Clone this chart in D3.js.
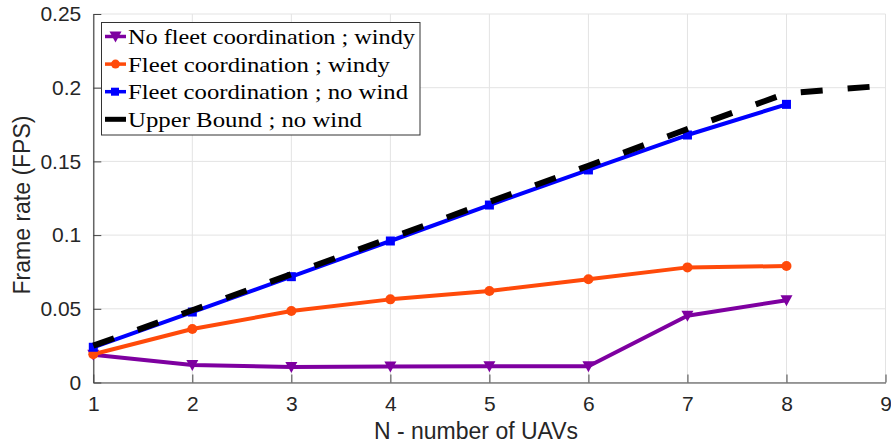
<!DOCTYPE html>
<html><head><meta charset="utf-8">
<script src="https://cdn.jsdelivr.net/npm/d3@7"></script>
<style>body{margin:0;background:#fff}svg{display:block}</style>
</head><body>
<script>
const nValues = [1, 2, 3, 4, 5, 6, 7, 8];
const nUpper = [1, 2, 3, 4, 5, 6, 7, 8, 9];
const noFleetWindy = [0.0188, 0.0118, 0.0105, 0.0108, 0.0110, 0.0110, 0.0453, 0.0558];
const fleetWindy = [0.0192, 0.0363, 0.0485, 0.0564, 0.0621, 0.0700, 0.0781, 0.0790];
const fleetNoWind = [0.0239, 0.0478, 0.0718, 0.0960, 0.1204, 0.1442, 0.1679, 0.1887];
const upperBound = [0.0250, 0.0490, 0.0735, 0.0980, 0.1225, 0.1470, 0.1720, 0.1962, 0.2014];
const xTicks = [1, 2, 3, 4, 5, 6, 7, 8, 9];
const yTicks = [0, 0.05, 0.1, 0.15, 0.2, 0.25];
const yTickLabels = ["0", "0.05", "0.1", "0.15", "0.2", "0.25"];
const legendLabels = ["No fleet coordination ; windy", "Fleet coordination ; windy", "Fleet coordination ; no wind", "Upper Bound ; no wind"];

const W = 891, H = 446;
const svg = d3.select("body").append("svg").attr("width", W).attr("height", H);
const x = d3.scaleLinear().domain([1, 9]).range([93.3, 885.5]);
const y = d3.scaleLinear().domain([0, 0.25]).range([382.5, 14]);

const purple = "#7e00a0", orange = "#ff4a0a", blue = "#0000ff", black = "#000000";
const sans = "'Liberation Sans', Arial, Helvetica, sans-serif";

// grid
const g = svg.append("g");
g.selectAll(".gx").data(xTicks).join("line")
  .attr("x1", d => x(d)).attr("x2", d => x(d)).attr("y1", y(0)).attr("y2", y(0.25))
  .attr("stroke", "#e3e3e3").attr("stroke-width", 1);
g.selectAll(".gy").data(yTicks).join("line")
  .attr("x1", x(1)).attr("x2", x(9)).attr("y1", d => y(d)).attr("y2", d => y(d))
  .attr("stroke", "#e3e3e3").attr("stroke-width", 1);

// axes
const xAxis = d3.axisBottom(x).tickValues(xTicks).tickFormat(d3.format("d")).tickSizeInner(-8).tickSizeOuter(0).tickPadding(14);
const yAxis = d3.axisLeft(y).tickValues(yTicks).tickFormat((d, i) => yTickLabels[i]).tickSizeInner(-8).tickSizeOuter(0).tickPadding(12);
const gx = svg.append("g").attr("transform", `translate(0,${y(0)})`).call(xAxis);
const gy = svg.append("g").attr("transform", `translate(${x(1)},0)`).call(yAxis);
[gx, gy].forEach(a => {
  a.select(".domain").attr("stroke", "#444").attr("stroke-width", 1.2);
  a.selectAll(".tick line").attr("stroke", "#444").attr("stroke-width", 1);
  a.selectAll(".tick text").attr("fill", "#262626").style("font-family", sans).style("font-size", "21px");
});

// axis labels
svg.append("text").attr("x", 476).attr("y", 439).attr("text-anchor", "middle")
  .style("font-family", sans).style("font-size", "23px").attr("fill", "#262626")
  .text("N - number of UAVs");
svg.append("text").attr("transform", "translate(30,205) rotate(-90)").attr("text-anchor", "middle")
  .style("font-family", sans).style("font-size", "23px").attr("fill", "#262626")
  .text("Frame rate (FPS)");

// lines
const line = d3.line().x(d => x(d[0])).y(d => y(d[1]));
const series = [
  {vals: noFleetWindy, xs: nValues, color: purple, marker: "tri"},
  {vals: fleetWindy, xs: nValues, color: orange, marker: "circle"},
  {vals: fleetNoWind, xs: nValues, color: blue, marker: "square"}
];
const triPath = "M-6,-5L6,-5L0,6Z";
function drawMarkers(sel, data, kind, color) {
  if (kind === "tri") {
    sel.selectAll(null).data(data).join("path")
      .attr("d", triPath).attr("transform", d => `translate(${x(d[0])},${y(d[1])})`).attr("fill", color);
  } else if (kind === "circle") {
    sel.selectAll(null).data(data).join("circle")
      .attr("cx", d => x(d[0])).attr("cy", d => y(d[1])).attr("r", 5).attr("fill", color);
  } else {
    sel.selectAll(null).data(data).join("rect")
      .attr("x", d => x(d[0]) - 4.5).attr("y", d => y(d[1]) - 4.5).attr("width", 9).attr("height", 9).attr("fill", color);
  }
}
series.forEach(s => {
  const data = s.xs.map((v, i) => [v, s.vals[i]]);
  const sg = svg.append("g");
  sg.append("path").datum(data).attr("d", line).attr("fill", "none").attr("stroke", s.color)
    .attr("stroke-width", 4).attr("stroke-linejoin", "round");
  drawMarkers(sg, data, s.marker, s.color);
});
svg.append("path").datum(nUpper.map((v, i) => [v, upperBound[i]])).attr("d", line)
  .attr("fill", "none").attr("stroke", black).attr("stroke-width", 6)
  .attr("stroke-dasharray", "22,25").attr("stroke-linecap", "butt");

// legend
const lg = svg.append("g");
lg.append("rect").attr("x", 101.5).attr("y", 22.5).attr("width", 318.5).attr("height", 112.5)
  .attr("fill", "#fff").attr("stroke", "#333").attr("stroke-width", 1);
const legColors = [purple, orange, blue, black];
const legMarkers = ["tri", "circle", "square", null];
const legWidths = [287, 262, 280, 234];
legendLabels.forEach((lab, i) => {
  const cy = 36.5 + i * 27.6;
  lg.append("line").attr("x1", 105).attr("x2", 126).attr("y1", cy).attr("y2", cy)
    .attr("stroke", legColors[i]).attr("stroke-width", i === 3 ? 5 : 3.5);
  if (legMarkers[i] === "tri") lg.append("path").attr("d", triPath).attr("transform", `translate(115.5,${cy})`).attr("fill", purple);
  if (legMarkers[i] === "circle") lg.append("circle").attr("cx", 115.5).attr("cy", cy).attr("r", 4.5).attr("fill", orange);
  if (legMarkers[i] === "square") lg.append("rect").attr("x", 111).attr("y", cy - 4).attr("width", 8).attr("height", 8).attr("fill", blue);
  lg.append("text").attr("x", 128).attr("y", cy + 7.5)
    .style("font-family", "'Liberation Serif', 'Times New Roman', serif").style("font-size", "21px")
    .attr("fill", "#000").attr("textLength", legWidths[i]).attr("lengthAdjust", "spacingAndGlyphs")
    .text(lab);
});
</script>
</body></html>
